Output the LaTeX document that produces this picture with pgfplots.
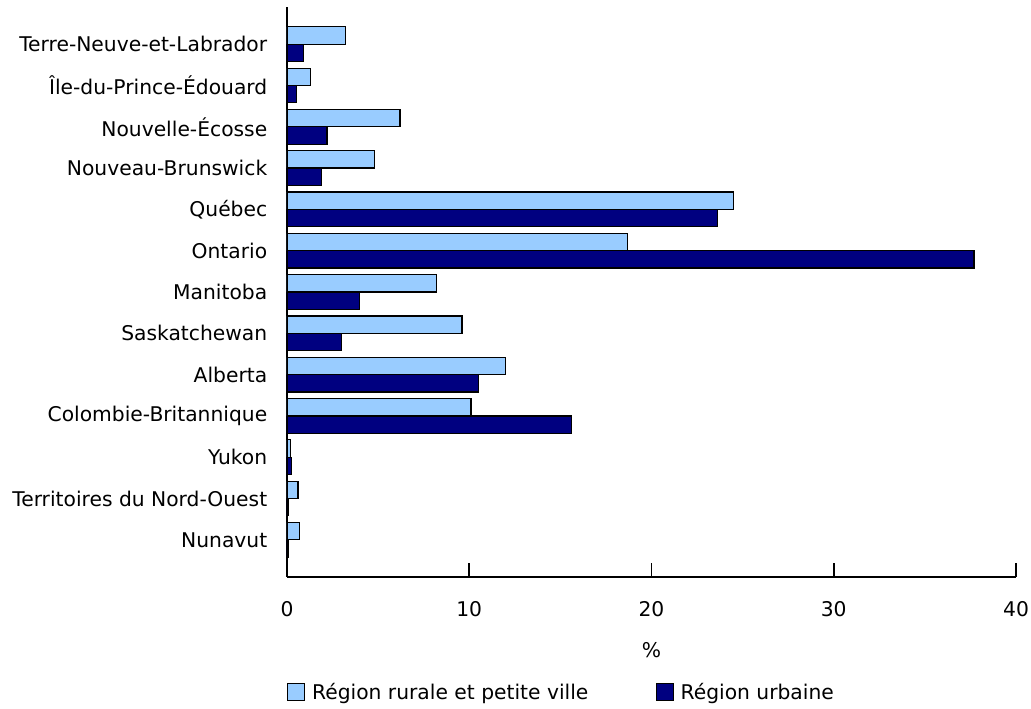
\documentclass[border=0pt]{standalone}
\usepackage{fontspec}
\setmainfont{DejaVu Sans}
\usepackage{pgfplots}
\pgfplotsset{compat=1.18}
\definecolor{lightb}{HTML}{99CCFF}
\definecolor{darkb}{HTML}{000080}
\begin{document}
\begin{tikzpicture}[font=\fontsize{15.2}{18}\selectfont]
\useasboundingbox (-215.25pt,-99pt) rectangle (558pt,432.75pt);
\begin{axis}[
  at={(0,0)}, anchor=south west,
  scale only axis, width=546.75pt, height=427.5pt,
  xbar, bar width=13pt,
  xmin=0, xmax=40, ymin=-0.9, ymax=12.9,
  xtick={0,10,20,30,40},
  ytick={0,...,12},
  yticklabels={Nunavut, Territoires du Nord-Ouest, Yukon, Colombie-Britannique, Alberta, Saskatchewan, Manitoba, Ontario, Québec, Nouveau-Brunswick, Nouvelle-Écosse, Île-du-Prince-Édouard, Terre-Neuve-et-Labrador},
  axis x line*=bottom, axis y line*=left,
  axis line style={line width=1.2pt},
  tick align=inside, major tick length=10.5pt,
  xtick style={line width=1.2pt, black},
  ytick style={draw=none},
  /pgf/number format/assume math mode=true,
  xticklabel style={anchor=center, yshift=-24pt},
  yticklabel style={anchor=east, xshift=-11.3pt},
  xlabel={\%},
  xlabel style={at={(axis description cs:0.5,0)}, anchor=center, yshift=-54.75pt},
  legend style={at={(axis description cs:0,0)}, anchor=west, yshift=-86.25pt,
    draw=none, fill=none, inner sep=0pt,
    /tikz/every odd column/.append style={column sep=3pt},
    /tikz/every even column/.append style={column sep=48.5pt}},
  legend columns=2, legend cell align=left,
]
\addplot[fill=lightb, draw=black, line width=0.9pt, bar shift=6.5pt,
  legend image code/.code={\draw[fill=lightb,draw=black,line width=0.9pt] (0pt,-6.4pt) rectangle (12.75pt,6.4pt);}]
  coordinates {(0.7,0) (0.6,1) (0.2,2) (10.1,3) (12.0,4) (9.6,5) (8.2,6) (18.7,7) (24.5,8) (4.8,9) (6.2,10) (1.3,11) (3.2,12)};
\addlegendentry{Région rurale et petite ville}
\addplot[fill=darkb, draw=black, line width=0.9pt, bar shift=-6.5pt,
  legend image code/.code={\draw[fill=darkb,draw=black,line width=0.9pt] (0pt,-6.4pt) rectangle (12.75pt,6.4pt);}]
  coordinates {(0.05,0) (0.1,1) (0.25,2) (15.6,3) (10.5,4) (3.0,5) (4.0,6) (37.7,7) (23.6,8) (1.9,9) (2.2,10) (0.5,11) (0.9,12)};
\addlegendentry{Région urbaine}
\end{axis}
\end{tikzpicture}
\end{document}
